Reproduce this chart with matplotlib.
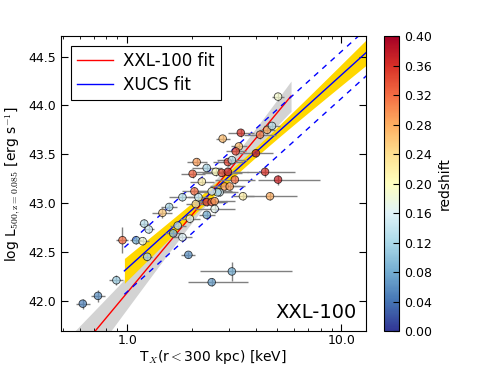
import matplotlib
matplotlib.use("Agg")
import matplotlib.pyplot as plt
import matplotlib.cm as cm
import matplotlib.colors as mcolors
import numpy as np
from matplotlib.ticker import FuncFormatter, NullFormatter, LogLocator, MultipleLocator

plt.rcParams['mathtext.fontset'] = 'cm'
plt.rcParams['font.family'] = ['DejaVu Sans']

# cluster data: temperature [keV], log luminosity, redshift
temp = [0.62, 0.73, 0.89, 0.95, 1.10, 1.18, 1.20, 1.26, 1.24, 1.46,
        1.57, 1.81, 1.64, 1.81, 1.96, 1.93, 2.06, 2.09, 2.15, 2.35,
        2.48, 2.70, 2.35, 1.72, 2.79, 3.39, 4.17, 4.50, 4.74, 5.06,
        3.32, 3.21, 3.99, 2.11, 2.35, 2.02, 2.95, 3.08, 2.59, 2.76,
        2.95, 2.23, 3.18, 2.85, 3.01, 2.64, 2.48, 3.47, 2.56, 2.56,
        4.40, 5.06, 4.64, 3.08, 2.48]
lum = [41.97, 42.05, 42.21, 42.62, 42.62, 42.61, 42.79, 42.73, 42.45, 42.90,
       42.96, 43.06, 42.69, 42.65, 42.84, 42.47, 43.12, 42.99, 43.06, 43.01,
       43.01, 43.11, 42.88, 42.77, 43.66, 43.72, 43.70, 43.75, 43.79, 44.09,
       43.58, 43.53, 43.51, 43.42, 43.36, 43.30, 43.42, 43.44, 43.32, 43.31,
       43.32, 43.22, 43.24, 43.17, 43.17, 43.11, 43.12, 43.07, 43.02, 42.94,
       43.32, 43.24, 43.07, 42.30, 42.19]
redshift = [0.05, 0.06, 0.11, 0.32, 0.08, 0.18, 0.13, 0.15, 0.12, 0.26,
            0.12, 0.13, 0.09, 0.16, 0.17, 0.06, 0.32, 0.24, 0.14, 0.35,
            0.33, 0.15, 0.08, 0.13, 0.27, 0.36, 0.31, 0.28, 0.13, 0.19,
            0.27, 0.35, 0.38, 0.29, 0.12, 0.33, 0.35, 0.13, 0.20, 0.34,
            0.36, 0.22, 0.32, 0.29, 0.29, 0.12, 0.16, 0.22, 0.29, 0.17,
            0.36, 0.37, 0.28, 0.08, 0.07]
# temperature errors in dex (lower, upper), luminosity error in dex
t_err_lo = [0.033, 0.033, 0.033, 0.028, 0.028, 0.028, 0.023, 0.023, 0.023, 0.047,
            0.038, 0.061, 0.038, 0.047, 0.047, 0.033, 0.056, 0.047, 0.047, 0.070,
            0.070, 0.070, 0.038, 0.038, 0.033, 0.061, 0.075, 0.038, 0.038, 0.028,
            0.038, 0.047, 0.080, 0.047, 0.070, 0.056, 0.070, 0.070, 0.094, 0.094,
            0.094, 0.056, 0.094, 0.070, 0.070, 0.094, 0.094, 0.052, 0.094, 0.094,
            0.085, 0.094, 0.127, 0.150, 0.113]
t_err_hi = [0.033, 0.033, 0.033, 0.028, 0.028, 0.028, 0.023, 0.023, 0.023, 0.047,
            0.038, 0.061, 0.038, 0.047, 0.047, 0.033, 0.056, 0.047, 0.047, 0.070,
            0.070, 0.070, 0.038, 0.038, 0.033, 0.061, 0.075, 0.038, 0.038, 0.028,
            0.038, 0.047, 0.080, 0.047, 0.070, 0.056, 0.070, 0.070, 0.094, 0.094,
            0.094, 0.056, 0.094, 0.070, 0.070, 0.094, 0.094, 0.052, 0.094, 0.094,
            0.141, 0.197, 0.127, 0.282, 0.169]
l_err = [0.05, 0.06, 0.05, 0.13, 0.04, 0.04, 0.05, 0.04, 0.04, 0.05,
         0.04, 0.04, 0.04, 0.04, 0.04, 0.03, 0.04, 0.04, 0.04, 0.04,
         0.04, 0.04, 0.04, 0.04, 0.04, 0.04, 0.04, 0.04, 0.04, 0.04,
         0.04, 0.04, 0.04, 0.04, 0.04, 0.04, 0.04, 0.04, 0.04, 0.04,
         0.04, 0.04, 0.04, 0.04, 0.04, 0.04, 0.04, 0.04, 0.04, 0.04,
         0.05, 0.05, 0.04, 0.10, 0.04]

# fit parameters: L = norm + slope*log10(T/pivot); band = sqrt(a^2 + b^2 dlogT^2)
xxl_norm, xxl_slope, xxl_pivot = 43.13, 2.63, 2.5
xxl_band_a, xxl_band_b, xxl_range = 0.07, 0.375, (0.5, 5.82)
xucs_norm, xucs_slope, xucs_pivot = 43.12, 1.98, 2.5
xucs_band_a, xucs_band_b, xucs_band_pivot, xucs_range = 0.05, 0.21, 3.5, (0.97, 13.5)
xucs_scatter = 0.24

temp = np.array(temp)
lum = np.array(lum)
lo = np.array(t_err_lo)
hi = np.array(t_err_hi)

fig = plt.figure(figsize=(4.91, 3.68), dpi=100)
ax = fig.add_axes([0.124, 0.1005, 0.621, 0.8015])
cax = fig.add_axes([0.782, 0.1005, 0.0305, 0.8015])

# XXL-100 fit
tx = np.logspace(np.log10(xxl_range[0]), np.log10(xxl_range[1]), 200)
ly = xxl_norm + xxl_slope * np.log10(tx / xxl_pivot)
w = np.sqrt(xxl_band_a**2 + (xxl_band_b * np.log10(tx / xxl_pivot))**2)
ax.fill_between(tx, ly - w, ly + w, color='lightgray', lw=0, zorder=0)

# XUCS fit
tu = np.logspace(np.log10(xucs_range[0]), np.log10(xucs_range[1]), 200)
lu = xucs_norm + xucs_slope * np.log10(tu / xucs_pivot)
wu = np.sqrt(xucs_band_a**2 + (xucs_band_b * np.log10(tu / xucs_band_pivot))**2)
ax.fill_between(tu, lu - wu, lu + wu, color='gold', lw=0, zorder=1)

ax.plot(tx, ly, color='r', lw=1, label='XXL-100 fit', zorder=2)
ax.plot(tu, lu, color='b', lw=1, label='XUCS fit', zorder=2)
ax.plot(tu, lu + xucs_scatter, color='b', lw=1, ls=(0, (4, 4)), zorder=2)
ax.plot(tu, lu - xucs_scatter, color='b', lw=1, ls=(0, (4, 4)), zorder=2)

ax.errorbar(temp, lum, xerr=[temp - temp * 10**(-lo), temp * 10**hi - temp],
            yerr=l_err, fmt='none', ecolor='gray', elinewidth=1, capsize=0, zorder=3)
norm = mcolors.Normalize(vmin=0, vmax=0.4)
ax.scatter(temp, lum, c=redshift, cmap='RdYlBu_r', norm=norm, s=30, alpha=0.72,
           edgecolors='k', linewidths=0.6, zorder=4)

ax.set_xscale('log')
ax.set_xlim(0.49, 13.0)
ax.set_ylim(41.69, 44.71)
ax.xaxis.set_major_locator(LogLocator(base=10))
ax.xaxis.set_major_formatter(FuncFormatter(lambda v, p: '%.1f' % v))
ax.xaxis.set_minor_formatter(NullFormatter())
ax.yaxis.set_major_locator(MultipleLocator(0.5))
ax.tick_params(which='both', direction='in', top=True, right=True, labelsize=9)
ax.tick_params(which='major', length=5)
ax.tick_params(which='minor', length=2.5)
ax.tick_params(axis='x', pad=2)

ax.set_xlabel(r'T$_X$(r$<$300 kpc) [keV]', fontsize=10, labelpad=1)
ax.set_ylabel(r'log L$_{\rm 500,z=0.085}$ [erg s$^{-1}$]', fontsize=10)
ax.text(0.97, 0.03, 'XXL-100', transform=ax.transAxes, ha='right', va='bottom', fontsize=14)

leg = ax.legend(loc='upper left', fontsize=12, fancybox=False, framealpha=1,
                edgecolor='k', handlelength=2.2, handletextpad=0.6,
                labelspacing=0.35, borderpad=0.35, borderaxespad=0.6)
leg.get_frame().set_linewidth(0.8)

sm = cm.ScalarMappable(norm=norm, cmap='RdYlBu_r')
cb = fig.colorbar(sm, cax=cax, ticks=np.arange(0, 0.41, 0.04))
cb.ax.yaxis.set_major_formatter(FuncFormatter(lambda v, p: '%.2f' % v))
cb.ax.tick_params(labelsize=9, direction='in', length=4)
cb.set_label('redshift', fontsize=10)

fig.savefig('out.png', dpi=100)
